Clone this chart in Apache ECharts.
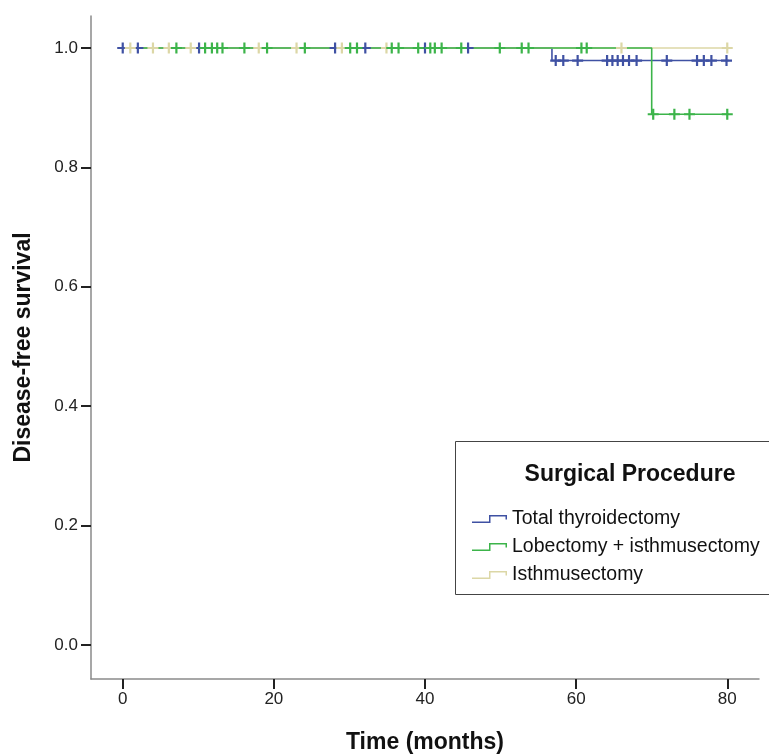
<!DOCTYPE html>
<html>
<head>
<meta charset="utf-8">
<script src="https://cdn.jsdelivr.net/npm/echarts@6/dist/echarts.min.js"></script>
<style>html,body{margin:0;padding:0;background:#fff;}#c{width:769px;height:754px;}</style>
</head>
<body>
<div id="c"></div>
<script>
// ---- data ----
const groupNames = ['Total thyroidectomy', 'Lobectomy + isthmusectomy', 'Isthmusectomy'];
const colors = ['#3f51a3', '#3cb44a', '#dcd7a6'];
// Kaplan-Meier step points [time, survival]
const totalSteps = [[0, 1], [56.8, 0.979], [80.2, 0.979]];
const lobSteps = [[0, 1], [70.0, 0.889], [80.2, 0.889]];
const isthSteps = [[0, 1], [80.2, 1]];
// censored times (months)
const totalCensored = [0.0, 2.0, 10.1, 28.1, 32.1, 40.0, 45.7, 57.3, 58.3, 60.2, 64.1, 64.8, 65.5, 66.2, 67.0, 68.0, 72.0, 76.0, 76.9, 77.9, 79.9];
const lobCensored = [7.1, 10.9, 11.8, 12.5, 13.2, 16.1, 19.1, 24.1, 30.1, 31.0, 35.6, 36.5, 39.1, 40.7, 41.3, 42.2, 44.8, 49.9, 52.8, 53.7, 60.7, 61.4, 70.2, 73.0, 75.0, 80.0];
const isthCensored = [1.0, 4.0, 6.1, 9.0, 18.0, 23.0, 29.0, 34.9, 66.0, 80.0];
// ticks
const xTicks = [0, 20, 40, 60, 80];
const yTicks = [0, 0.2, 0.4, 0.6, 0.8, 1.0];

function survivalAt(steps, t) {
  let s = steps[0][1];
  for (let i = 0; i < steps.length; i++) { if (steps[i][0] <= t) s = steps[i][1]; }
  return s;
}
const stepsList = [totalSteps, lobSteps, isthSteps];
const censList = [totalCensored, lobCensored, isthCensored];

const cross = 'path://M0,4h10v2h-10z M4,0h2v10h-2z';
const legendIcon = 'path://M0,6.5h18.5v1.5h-18.5z M17,0h1.5v8h-1.5z M17,0h18v1.5h-18z M33.5,0h1.5v4.5h-1.5z';
const font = 'Liberation Sans, Arial, sans-serif';

const drawOrder = [0, 2, 1];
const series = [];
drawOrder.forEach(i => {
  series.push({
    name: groupNames[i], type: 'line', step: 'end', data: stepsList[i],
    symbol: 'none', lineStyle: { color: colors[i], width: 1.6 }, itemStyle: { color: colors[i] },
    z: 2
  });
});
drawOrder.forEach(i => {
  series.push({
    name: groupNames[i], type: 'scatter',
    data: censList[i].map(t => [t, survivalAt(stepsList[i], t)]),
    symbol: cross, symbolSize: [11, 11], itemStyle: { color: colors[i], opacity: 1 }, z: 3
  });
});

const chart = echarts.init(document.getElementById('c'), null, { renderer: 'canvas' });
chart.setOption({
  animation: false,
  backgroundColor: '#fff',
  grid: { left: 91, right: 10, top: 16, bottom: 75, containLabel: false, outerBoundsMode: 'none' },
  xAxis: {
    type: 'value', min: -4.2, max: 84.2,
    axisLine: { show: true, onZero: false, lineStyle: { color: '#8a8a8a', width: 1.5 } },
    axisTick: { show: true, customValues: xTicks, length: 10, lineStyle: { color: '#222', width: 2 } },
    axisLabel: { customValues: xTicks, fontSize: 17, color: '#222', margin: 12, fontFamily: font },
    splitLine: { show: false },
    name: 'Time (months)', nameLocation: 'middle', nameGap: 52,
    nameTextStyle: { fontSize: 23, fontWeight: 'bold', color: '#111', fontFamily: font }
  },
  yAxis: {
    type: 'value', min: -0.057, max: 1.0536,
    axisLine: { show: true, onZero: false, lineStyle: { color: '#8a8a8a', width: 1.5 } },
    axisTick: { show: true, customValues: yTicks, length: 10, lineStyle: { color: '#222', width: 2 } },
    axisLabel: { customValues: yTicks, fontSize: 17, color: '#222', margin: 13,
      formatter: v => Number(v).toFixed(1), fontFamily: font },
    splitLine: { show: false },
    name: 'Disease-free survival', nameLocation: 'middle', nameGap: 56,
    nameTextStyle: { fontSize: 23, fontWeight: 'bold', color: '#111', fontFamily: font }
  },
  legend: {
    orient: 'vertical', left: 467, top: 504,
    itemWidth: 35, itemHeight: 9, itemGap: 8,
    textStyle: { fontSize: 19.5, color: '#111', lineHeight: 20, fontFamily: font },
    data: groupNames.map((n, i) => ({ name: n, icon: legendIcon, itemStyle: { color: colors[i] } })),
    selectedMode: false
  },
  graphic: [
    { type: 'rect', shape: { x: 455.5, y: 441.5, width: 330, height: 153 },
      style: { fill: 'none', stroke: '#444', lineWidth: 1 }, z: 10 },
    { type: 'text', x: 630, y: 475,
      style: { text: 'Surgical Procedure', fontSize: 23, fontWeight: 'bold', fill: '#111',
        align: 'center', verticalAlign: 'middle', fontFamily: font }, z: 10 }
  ],
  series: series
});
</script>
</body>
</html>
